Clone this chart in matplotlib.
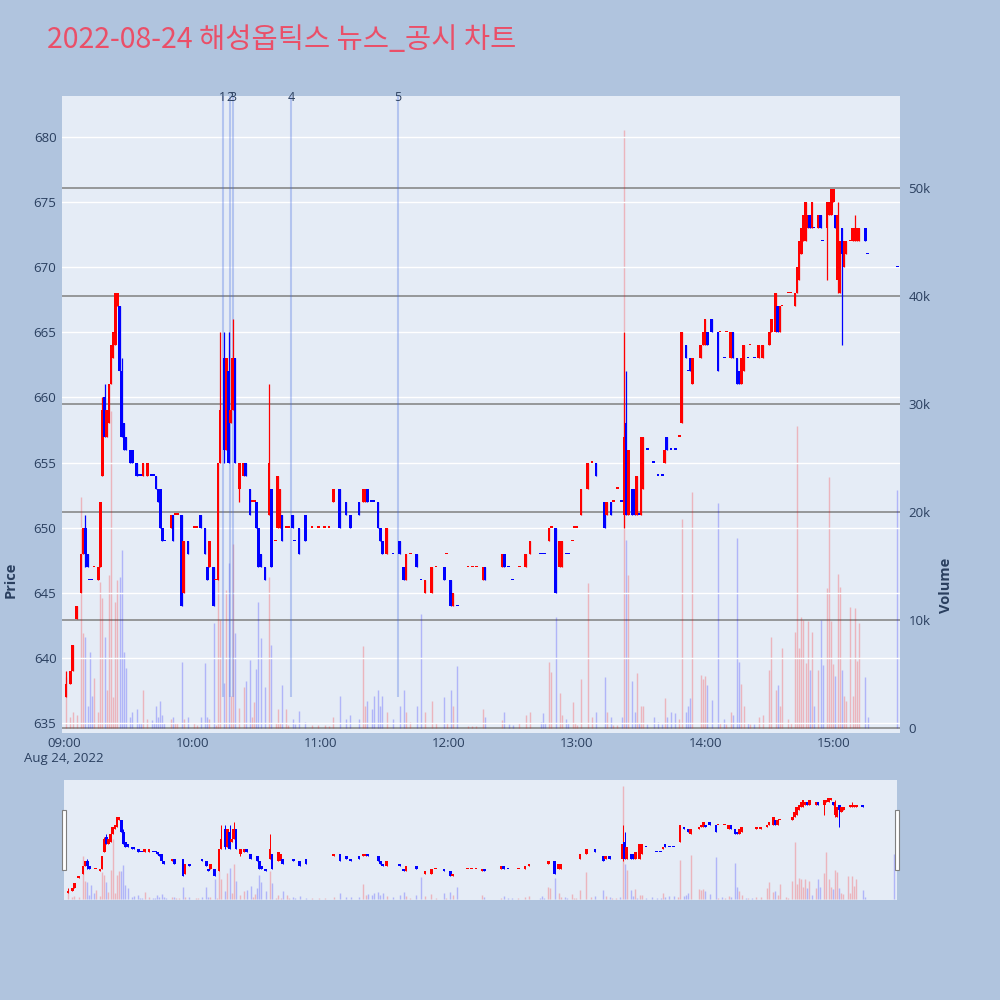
import matplotlib
matplotlib.use('Agg')
import matplotlib.pyplot as plt
from matplotlib.patches import Rectangle
from matplotlib.ticker import FuncFormatter

plt.rcParams['font.family'] = ['Open Sans', 'DejaVu Sans']

# minutes after 09:00 for each 1-minute candle
minutes = [1, 3, 4, 6, 8, 9, 10, 11, 12, 13, 14, 16, 17, 18, 19, 20, 21, 22, 23, 24,
           25, 26, 27, 28, 29, 31, 32, 34, 35, 36, 37, 39, 41, 42, 43, 44, 45, 46, 47, 50,
           51, 52, 53, 55, 56, 58, 61, 62, 64, 66, 67, 68, 70, 71, 72, 73, 75, 76, 77, 78,
           79, 80, 82, 84, 85, 87, 88, 89, 90, 91, 92, 94, 96, 97, 99, 100, 101, 102, 104, 105,
           107, 108, 110, 113, 116, 119, 122, 124, 126, 129, 132, 134, 138, 140, 141, 142, 144, 145, 147, 148,
           149, 151, 154, 157, 159, 160, 162, 165, 167, 169, 172, 174, 178, 179, 181, 182, 184, 189, 191, 193,
           196, 197, 205, 206, 208, 210, 213, 216, 218, 223, 224, 225, 227, 228, 230, 232, 233, 235, 236, 238,
           239, 240, 242, 245, 247, 249, 253, 254, 256, 257, 259, 261, 262, 263, 264, 266, 267, 268, 269, 270,
           271, 273, 276, 278, 280, 281, 282, 284, 286, 288, 289, 291, 292, 293, 294, 298, 299, 300, 301, 303,
           306, 307, 309, 310, 312, 313, 315, 316, 317, 318, 320, 321, 323, 325, 327, 330, 331, 333, 334, 335,
           336, 339, 340, 342, 343, 344, 345, 346, 347, 348, 349, 350, 351, 353, 354, 355, 357, 358, 359, 360,
           361, 362, 363, 364, 365, 366, 368, 369, 370, 371, 372, 375, 376, 390]

opens = [637, 638, 639, 643, 645, 648, 650, 648, 646, 646, 647, 646, 647, 654, 660, 657, 658, 661, 663, 664,
         667, 667, 662, 658, 657, 656, 656, 655, 654, 654, 654, 654, 654, 654, 654, 653, 653, 650, 649, 650,
         651, 651, 651, 651, 645, 649, 650, 650, 651, 650, 647, 647, 647, 646, 646, 655, 663, 656, 662, 658,
         659, 663, 653, 654, 655, 653, 652, 652, 652, 650, 648, 647, 651, 653, 649, 650, 650, 651, 650, 650,
         651, 649, 650, 651, 650, 650, 650, 650, 652, 653, 652, 651, 652, 652, 652, 653, 652, 652, 652, 650,
         649, 648, 648, 649, 647, 646, 648, 648, 646, 645, 645, 647, 647, 648, 646, 644, 644, 647, 647, 647,
         646, 647, 647, 648, 647, 646, 647, 647, 648, 648, 648, 648, 649, 650, 650, 647, 647, 648, 648, 649,
         650, 650, 651, 653, 655, 655, 652, 651, 652, 652, 653, 652, 651, 658, 651, 653, 653, 651, 651, 651,
         653, 656, 655, 654, 654, 655, 657, 656, 656, 657, 658, 664, 662, 663, 661, 663, 664, 664, 665, 666,
         665, 665, 663, 665, 663, 665, 663, 662, 661, 662, 663, 664, 663, 663, 663, 664, 665, 665, 667, 665,
         667, 668, 668, 667, 668, 669, 671, 672, 672, 673, 674, 673, 673, 673, 674, 672, 673, 674, 674, 675,
         674, 669, 668, 673, 670, 671, 672, 672, 672, 672, 672, 673, 671, 670]

highs = [639, 639, 641, 644, 648, 650, 651, 648, 646, 646, 647, 647, 652, 660, 661, 659, 661, 664, 665, 668,
         668, 667, 663, 658, 657, 656, 656, 655, 654, 654, 655, 655, 654, 654, 654, 653, 653, 650, 649, 651,
         651, 651, 651, 651, 649, 649, 650, 650, 651, 650, 647, 649, 647, 646, 655, 665, 665, 663, 665, 659,
         666, 663, 655, 655, 655, 653, 652, 652, 652, 650, 648, 647, 661, 653, 649, 654, 653, 651, 650, 650,
         651, 649, 650, 651, 650, 650, 650, 650, 653, 653, 652, 651, 652, 653, 653, 653, 652, 652, 652, 650,
         649, 650, 648, 649, 647, 648, 648, 648, 646, 646, 647, 647, 647, 648, 646, 645, 644, 647, 647, 647,
         647, 647, 648, 648, 647, 646, 647, 648, 649, 648, 648, 648, 650, 650, 650, 649, 649, 648, 648, 649,
         650, 650, 653, 655, 655, 655, 652, 652, 652, 652, 653, 652, 665, 662, 656, 653, 653, 654, 651, 657,
         657, 656, 655, 654, 654, 656, 657, 656, 656, 657, 665, 664, 662, 663, 663, 664, 665, 666, 665, 666,
         665, 665, 663, 665, 665, 665, 663, 662, 663, 664, 663, 664, 663, 664, 664, 665, 666, 668, 667, 667,
         667, 668, 668, 668, 670, 672, 673, 674, 675, 674, 674, 675, 673, 674, 674, 672, 675, 675, 676, 676,
         674, 675, 672, 673, 672, 672, 672, 673, 674, 673, 673, 673, 671, 670]

lows = [637, 638, 639, 643, 645, 648, 647, 647, 646, 646, 647, 646, 647, 654, 657, 657, 658, 661, 663, 664,
        667, 662, 657, 656, 656, 655, 655, 654, 654, 654, 654, 654, 654, 654, 653, 652, 650, 649, 649, 650,
        649, 651, 651, 644, 645, 648, 650, 650, 650, 648, 646, 647, 644, 646, 646, 655, 655, 656, 655, 658,
        659, 655, 652, 654, 654, 651, 652, 652, 650, 647, 647, 646, 651, 647, 649, 650, 650, 649, 650, 650,
        650, 649, 648, 649, 650, 650, 650, 650, 652, 650, 651, 650, 651, 652, 652, 652, 652, 652, 650, 649,
        648, 648, 648, 648, 646, 646, 648, 647, 646, 645, 645, 647, 646, 648, 644, 644, 644, 647, 647, 647,
        646, 646, 647, 647, 647, 646, 647, 647, 648, 648, 648, 648, 649, 650, 645, 647, 647, 648, 648, 649,
        650, 650, 651, 653, 655, 654, 650, 651, 651, 652, 653, 652, 650, 651, 651, 651, 651, 651, 651, 651,
        653, 656, 655, 654, 654, 655, 656, 656, 656, 657, 658, 663, 662, 662, 661, 663, 664, 664, 664, 665,
        662, 665, 663, 665, 663, 663, 661, 661, 661, 662, 663, 664, 663, 663, 663, 664, 665, 665, 665, 665,
        667, 668, 668, 667, 668, 669, 671, 672, 672, 673, 673, 673, 673, 673, 673, 672, 669, 674, 674, 675,
        673, 668, 668, 664, 670, 671, 672, 672, 672, 672, 672, 672, 671, 670]

closes = [638, 639, 641, 644, 648, 650, 648, 647, 646, 646, 647, 647, 652, 659, 657, 659, 661, 664, 665, 668,
          668, 662, 657, 656, 656, 655, 655, 654, 654, 654, 655, 655, 654, 654, 653, 652, 650, 649, 649, 651,
          649, 651, 651, 644, 649, 648, 650, 650, 650, 648, 646, 649, 644, 646, 655, 659, 656, 663, 655, 659,
          663, 655, 655, 655, 654, 651, 652, 652, 650, 647, 647, 646, 655, 647, 649, 654, 653, 649, 650, 650,
          650, 649, 648, 649, 650, 650, 650, 650, 653, 650, 651, 650, 651, 653, 653, 652, 652, 652, 650, 649,
          648, 650, 648, 648, 646, 648, 648, 647, 646, 646, 647, 647, 646, 648, 644, 645, 644, 647, 647, 647,
          647, 646, 648, 647, 647, 646, 647, 648, 649, 648, 648, 648, 650, 650, 645, 649, 649, 648, 648, 649,
          650, 650, 653, 655, 655, 654, 650, 652, 651, 652, 653, 652, 657, 651, 656, 651, 651, 654, 651, 657,
          657, 656, 655, 654, 654, 656, 656, 656, 656, 657, 665, 663, 662, 662, 663, 664, 665, 666, 664, 665,
          662, 665, 663, 665, 665, 663, 661, 661, 663, 664, 663, 664, 663, 664, 664, 665, 666, 668, 665, 667,
          667, 668, 668, 668, 670, 672, 673, 674, 675, 674, 673, 675, 673, 674, 673, 672, 675, 675, 676, 676,
          673, 674, 672, 671, 672, 672, 672, 673, 673, 673, 673, 672, 671, 670]

volumes = [4700, 1000, 1500, 1200, 21400, 8800, 8400, 2000, 7000, 3000, 4600, 1500, 13500, 12000, 8400, 3500, 14200, 29400, 2900, 11700,
           13700, 14000, 16500, 7000, 5600, 1000, 1500, 1800, 500, 500, 3500, 800, 700, 500, 2000, 1000, 2500, 1200, 500, 800,
           1000, 500, 500, 6100, 800, 1000, 500, 300, 1000, 6000, 1000, 800, 9700, 300, 13700, 10000, 4200, 12800, 15300, 3000,
           17000, 8800, 1900, 3800, 4400, 6300, 1000, 2400, 5500, 11700, 8300, 3800, 14000, 7700, 500, 1800, 500, 4000, 1800, 300,
           800, 400, 1600, 600, 300, 300, 300, 200, 1000, 3000, 800, 1200, 800, 7600, 2000, 2500, 1800, 3000, 3500, 2000,
           3000, 1500, 800, 2000, 3500, 1500, 600, 2000, 10600, 1500, 2500, 500, 2900, 500, 3500, 2000, 5700, 200, 200, 200,
           1800, 1000, 700, 1500, 400, 300, 500, 1200, 1500, 600, 1400, 500, 6100, 5200, 10300, 3200, 1200, 800, 500, 2400,
           500, 300, 4500, 13400, 1000, 1500, 4700, 1500, 1000, 300, 300, 1000, 55400, 17400, 14200, 4400, 1500, 5100, 500, 2000,
           2000, 400, 1000, 600, 400, 2800, 1000, 1500, 1400, 800, 19400, 1500, 2000, 2800, 21900, 4900, 4500, 4800, 4000, 2600,
           20800, 500, 800, 400, 1500, 1200, 17600, 6100, 4100, 2000, 500, 400, 400, 1000, 1200, 5400, 8400, 3500, 4000, 2000,
           7400, 800, 500, 8900, 28000, 7400, 10300, 10000, 6000, 9900, 5400, 8900, 2000, 5400, 10000, 5800, 13000, 23200, 9900, 5900,
           4800, 14300, 13100, 5400, 3000, 2500, 11200, 3000, 11100, 6200, 9700, 4700, 1000, 22000]

# news / disclosure markers
news_minutes = [74.2, 77.6, 79.3, 106.2, 156.3]
news_labels = ['1', '2', '3', '4', '5']

hour_ticks = [0, 60, 120, 180, 240, 300, 360]
hour_labels = ['09:00\nAug 24, 2022', '10:00', '11:00', '12:00', '13:00', '14:00', '15:00']
price_ticks = [635, 640, 645, 650, 655, 660, 665, 670, 675, 680]
vol_ticks = [0, 10000, 20000, 30000, 40000, 50000]

title = '2022-08-24 해성옵틱스 뉴스_공시 차트'

UP = '#ff0000'
DOWN = '#0000ff'
TXT = '#2a3f5f'
XLIM = (-0.94, 391.2)
PLIM = (634.23, 683.15)
VLIM = (-460, 58520)

# plotly style direction: equal open/close follows previous close
ups = []
prev_c = None
prev_up = True
for o, c in zip(opens, closes):
    if c > o:
        up = True
    elif c < o:
        up = False
    elif prev_c is None or c == prev_c:
        up = prev_up
    else:
        up = c > prev_c
    ups.append(up)
    prev_c = c
    prev_up = up
cols = [UP if u else DOWN for u in ups]


def draw(axp, axv, lw_scale=1.0):
    axv.vlines(minutes, 0, volumes, colors=cols, alpha=0.23, lw=1.0)
    axp.vlines(minutes, lows, highs, colors=cols, lw=0.9 * lw_scale, zorder=3)
    bottoms = [min(o, c) for o, c in zip(opens, closes)]
    heights = [max(abs(c - o), 0.09) for o, c in zip(opens, closes)]
    axp.bar(minutes, heights, bottom=bottoms, width=1.25, color=cols, linewidth=0, zorder=4)
    axp.set_xlim(*XLIM)
    axp.set_ylim(*PLIM)
    axv.set_ylim(*VLIM)


fig = plt.figure(figsize=(10, 10), dpi=100, facecolor='#b0c4de')

rect = [0.062, 0.267, 0.838, 0.637]
axv = fig.add_axes(rect, facecolor='#e5ecf6')
axp = fig.add_axes(rect, sharex=axv)
axp.patch.set_visible(False)
axp.set_zorder(axv.get_zorder() + 1)

draw(axp, axv)

axv.yaxis.tick_right()
axv.set_yticks(vol_ticks)
axv.yaxis.set_major_formatter(FuncFormatter(lambda v, p: '0' if v == 0 else '%dk' % (v // 1000)))
axv.grid(axis='y', color='#808080', lw=1.1)
axv.set_axisbelow(True)
axv.tick_params(axis='y', length=0, pad=6, labelsize=9.5, labelcolor=TXT)
axv.tick_params(axis='x', bottom=False, labelbottom=False)

axp.set_yticks(price_ticks)
axp.grid(axis='y', color='white', lw=1.0)
axp.tick_params(axis='y', length=0, pad=4, labelsize=9.5, labelcolor=TXT)
axp.set_xticks(hour_ticks)
axp.set_xticklabels(hour_labels)
axp.tick_params(axis='x', length=0, pad=3, labelsize=9.5, labelcolor=TXT)
for a in (axp, axv):
    for s in a.spines.values():
        s.set_visible(False)

# news lines with labels on top
for m, lab in zip(news_minutes, news_labels):
    axp.vlines(m, 637, PLIM[1], colors='#4169e1', alpha=0.3, lw=1.5, zorder=2)
    axp.text(m, PLIM[1] - 0.12, lab, ha='center', va='center', fontsize=9, color=TXT,
             zorder=6, clip_on=False)

fig.text(0.011, 0.42, 'Price', rotation=90, ha='center', va='center', fontsize=10.5,
         fontweight='bold', color=TXT)
fig.text(0.946, 0.415, 'Volume', rotation=90, ha='center', va='center', fontsize=10.5,
         fontweight='bold', color=TXT)
fig.text(0.047, 0.96, title, ha='left', va='center', fontsize=20.5, color='#ea4f68',
         family=['Noto Sans CJK KR', 'DejaVu Sans'])

# range slider
srect = [0.064, 0.1, 0.833, 0.12]
sv = fig.add_axes(srect, facecolor='#e5ecf6')
sp = fig.add_axes(srect, sharex=sv)
sp.patch.set_visible(False)
sp.set_zorder(sv.get_zorder() + 1)
draw(sp, sv, lw_scale=0.8)
for a in (sp, sv):
    a.set_xticks([])
    a.set_yticks([])
    for s in a.spines.values():
        s.set_visible(False)
for hx in (0.0615, 0.8945):
    fig.patches.append(Rectangle((hx, 0.13), 0.0045, 0.06, transform=fig.transFigure,
                                 facecolor='white', edgecolor='#7f7f7f', lw=0.8, zorder=10))

fig.savefig('out.png', dpi=100, facecolor=fig.get_facecolor())
